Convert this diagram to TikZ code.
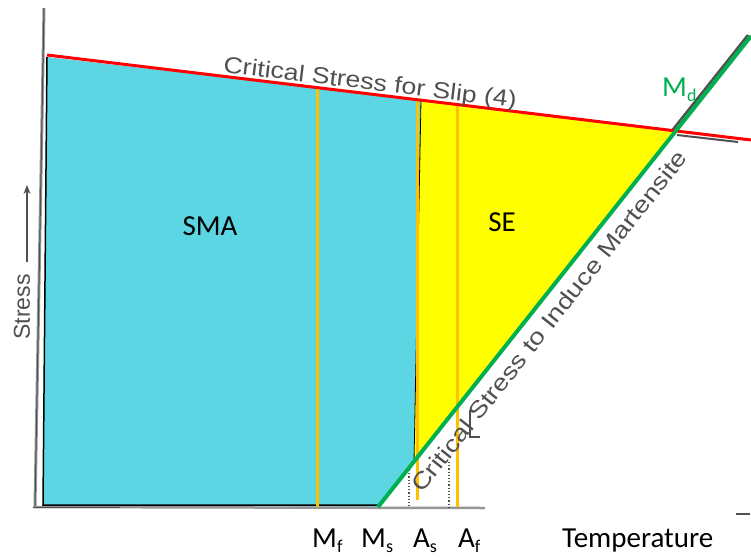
\documentclass[tikz,border=0pt]{standalone}
\usepackage{fontspec}
\setmainfont{Carlito}
\newfontfamily\scanfont{Liberation Sans}
\usetikzlibrary{arrows.meta}
\definecolor{cyanfill}{RGB}{92,214,226}
\definecolor{yel}{RGB}{255,255,0}
\definecolor{orng}{RGB}{255,192,0}
\definecolor{grn}{RGB}{0,176,80}
\definecolor{scan}{RGB}{80,80,80}
\definecolor{scanlight}{RGB}{150,150,150}
\newcommand\sbs[1]{\raisebox{-0.2em}{\fontsize{18}{18}\selectfont #1}}
\begin{document}
\begin{tikzpicture}[x=1pt,y=-1pt,
  lbl/.style={font=\fontsize{29}{29}\selectfont, inner sep=0pt},
  scantxt/.style={font=\scanfont\fontsize{23}{23}\selectfont, text=scan, inner sep=0pt},
  orangeline/.style={draw=orng, line width=3pt},
  scanline/.style={draw=scan, line width=2pt},
  borderline/.style={draw=black, line width=1.5pt}]
\useasboundingbox (0,0) rectangle (751,557);
% key coordinates
\coordinate (RedL) at (47,55);
\coordinate (RedR) at (751,140);
\coordinate (GrB) at (378,507);
\coordinate (GrT) at (751,36);
\coordinate (Md) at (intersection of RedL--RedR and GrB--GrT);
\coordinate (CTL) at (47,57);
\coordinate (CTR) at (421,100.1);
\coordinate (CBR) at (414,461.5);
\coordinate (CBL) at (43,505);
\coordinate (CB) at (378,505);
% fills
\fill[cyanfill] (CTL) -- (CTR) -- (CBR) -- (GrB) -- (CBL) -- cycle;
\fill[yel] (CTR) -- (Md) -- (CBR) -- cycle;
% scanned axis remnants
\coordinate (AxT) at (44,8);
\coordinate (AxB) at (35,506);
\coordinate (AxR) at (485,508);
\draw[scanline, draw=scanlight, line width=3pt] (AxT) -- (AxB);
\draw[scanline, line width=1pt] (AxT) -- (AxB);
\draw[scanline, draw=scanlight, line width=2.5pt] (33,507) -- (AxR);
\draw[scanline, line width=1pt] (33,507) -- (120,507);
\coordinate (GsB) at (672.5,130);
\coordinate (GsT) at (748,35);
\draw[scanline, line width=2.5pt] (GsB) -- (GsT);
\coordinate (SmA) at (677,135);
\coordinate (SmB) at (738,142);
\draw[scanline, line width=2pt] (SmA) -- (SmB);
\coordinate (DaA) at (736,514);
\coordinate (DaB) at (750,514);
\draw[scanline, line width=2.5pt] (DaA) -- (DaB);
\coordinate (DoA) at (409,470);
\coordinate (DoB) at (409,507);
\coordinate (DoC) at (449,462);
\coordinate (DoD) at (449,507);
\draw[scanline, line width=1.2pt, dotted] (DoA) -- (DoB);
\draw[scanline, line width=1.2pt, dotted] (DoC) -- (DoD);
\coordinate (TkA) at (470,410);
\coordinate (TkB) at (470,437);
\coordinate (TkC) at (480,437);
\draw[scanline, line width=1.5pt] (TkA) -- (TkB) -- (TkC);
% black border
\draw[borderline] (CTL) -- (CBL) -- (CB);
\draw[black, line width=0.8pt] (CTR) -- (CBR);
% orange lines
\coordinate (MfT) at (317,87.6);
\coordinate (MfB) at (317,507);
\coordinate (AsT) at (417.5,99.7);
\coordinate (AsB) at (417.5,500);
\coordinate (AfT) at (457,104.5);
\coordinate (AfB) at (457,507);
\draw[orangeline] (MfT) -- (MfB);
\draw[orangeline] (AsT) -- (AsB);
\draw[orangeline] (AfT) -- (AfB);
% red and green lines
\draw[red, line width=3pt] (RedL) -- (RedR);
\draw[grn, line width=4pt] (GrB) -- (GrT);
% scanned texts
\node[scantxt, rotate=-6.9, xscale=1.16] (slip) at (370,84) {Critical Stress for Slip (4)};
\node[scantxt, rotate=51.6, xscale=1.2] (induce) at (549,321) {Critical Stress to Induce Martensite};
\node[scantxt, rotate=90] (stress) at (22,307) {Stress};
\coordinate (ArB) at (27,262);
\coordinate (ArT) at (27,185);
\draw[scan, line width=1.2pt, -{Stealth[length=9pt,width=7pt]}] (ArB) -- (ArT);
% labels
\node[lbl] (sma) at (210,226) {SMA};
\node[lbl] (se) at (502,222) {SE};
\node[lbl, text=grn, anchor=base west] (md) at (662,96) {M\sbs{d}};
\node[lbl, anchor=base west] (mf) at (312,547) {M\sbs{f}};
\node[lbl, anchor=base west] (ms) at (361,547) {M\sbs{s}};
\node[lbl, anchor=base west] (as) at (413,547) {A\sbs{s}};
\node[lbl, anchor=base west] (af) at (458,547) {A\sbs{f}};
\node[lbl, anchor=base west] (temp) at (562,547) {Temperature};
\end{tikzpicture}
\end{document}
